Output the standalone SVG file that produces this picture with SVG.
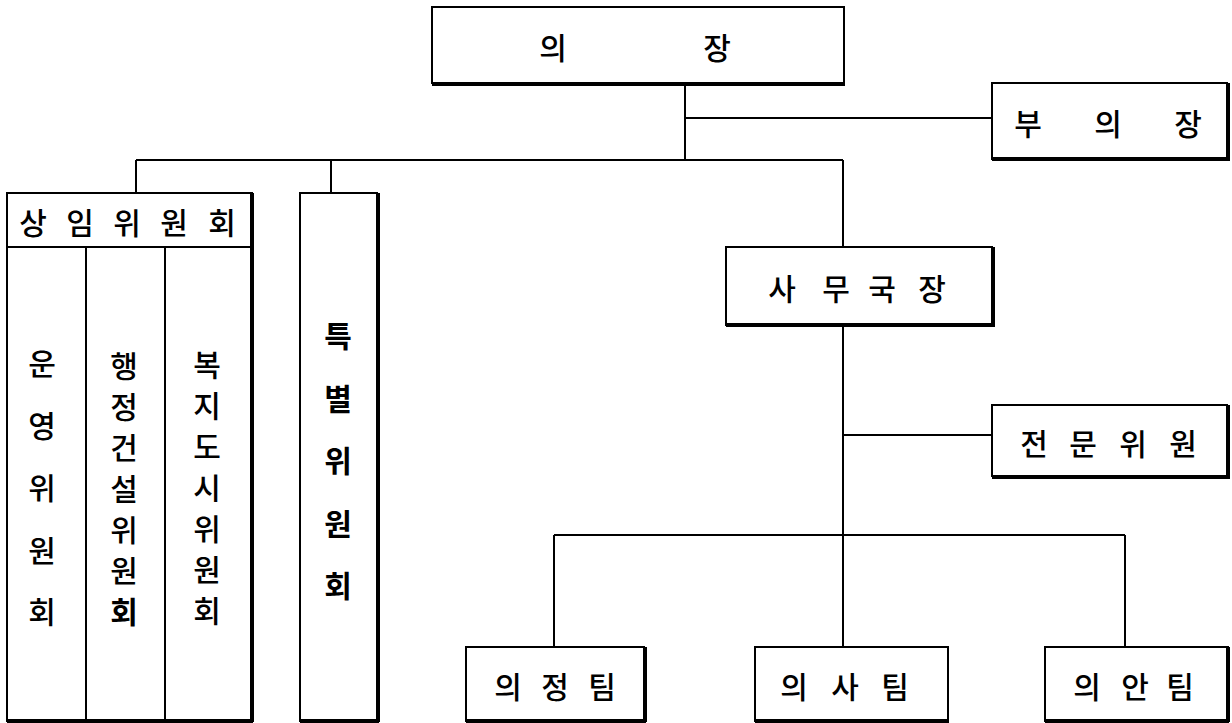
<svg xmlns="http://www.w3.org/2000/svg" width="1232" height="723" viewBox="0 0 1232 723">
<style>
.box{fill:#fff;stroke:#000;stroke-width:2}
.sh{fill:none;stroke:#000;stroke-width:4}
.ln{fill:none;stroke:#000;stroke-width:2}
.t{font-family:"Noto Sans CJK KR","Noto Sans CJK SC",sans-serif;font-size:30px;font-weight:500;fill:#000;text-anchor:middle}
.b{font-weight:700}
</style>
<rect width="1232" height="723" fill="#fff"/>
<g id="connectors">
<path class="ln" d="M685 84V160M685 118H992M136 160H843M136 160V193M331 160V193M843 160V247M843 326V646M843 435H992M554 535H1125M554 535V647M1125 535V647"/>
</g>
<g id="chair">
<rect class="box" x="432" y="7" width="412" height="76"/>
<path class="sh" d="M432 84H845"/>
<text class="t" x="553" y="59">의</text>
<text class="t" x="717" y="59">장</text>
</g>
<g id="vice-chair">
<rect class="box" x="992" y="83" width="235" height="76"/>
<path class="sh" d="M992 159H1228V83"/>
<text class="t" x="1028" y="135">부</text>
<text class="t" x="1108" y="135">의</text>
<text class="t" x="1188" y="135">장</text>
</g>
<g id="standing-committee">
<rect class="box" x="7" y="193" width="245" height="528"/>
<path class="ln" d="M7 247H252M86 247V721M165 247V721"/>
<path class="sh" d="M252 193V722M7 721H253"/>
<text class="t" x="33" y="234">상</text>
<text class="t" x="80" y="234">임</text>
<text class="t" x="127" y="234">위</text>
<text class="t" x="174" y="234">원</text>
<text class="t" x="222" y="234">회</text>
<g id="operations-committee">
<text class="t" x="42" y="375">운</text>
<text class="t" x="42" y="437">영</text>
<text class="t" x="42" y="499">위</text>
<text class="t" x="42" y="562">원</text>
<text class="t" x="42" y="623">회</text>
</g>
<g id="admin-construction-committee">
<text class="t" x="124" y="377">행</text>
<text class="t" x="124" y="418">정</text>
<text class="t" x="124" y="459">건</text>
<text class="t" x="124" y="500">설</text>
<text class="t" x="124" y="541">위</text>
<text class="t" x="124" y="582">원</text>
<text class="t b" x="124" y="623">회</text>
</g>
<g id="welfare-city-committee">
<text class="t" x="207" y="376">복</text>
<text class="t" x="207" y="417">지</text>
<text class="t" x="207" y="458">도</text>
<text class="t" x="207" y="499">시</text>
<text class="t" x="207" y="540">위</text>
<text class="t" x="207" y="581">원</text>
<text class="t" x="207" y="622">회</text>
</g>
</g>
<g id="special-committee">
<rect class="box" x="300" y="193" width="77" height="528"/>
<path class="sh" d="M378 193V722M300 721H379"/>
<text class="t b" x="338" y="347">특</text>
<text class="t b" x="338" y="410">별</text>
<text class="t b" x="338" y="472">위</text>
<text class="t b" x="338" y="535">원</text>
<text class="t b" x="338" y="597">회</text>
</g>
<g id="secretary-general">
<rect class="box" x="726" y="247" width="266" height="78"/>
<path class="sh" d="M726 325H993V247"/>
<text class="t" x="782" y="300">사</text>
<text class="t" x="836" y="300">무</text>
<text class="t" x="882" y="300">국</text>
<text class="t" x="932" y="300">장</text>
</g>
<g id="specialist">
<rect class="box" x="992" y="405" width="235" height="71"/>
<path class="sh" d="M992 477H1228V405"/>
<text class="t" x="1034" y="455">전</text>
<text class="t" x="1083" y="455">문</text>
<text class="t" x="1133" y="455">위</text>
<text class="t" x="1183" y="455">원</text>
</g>
<g id="team-agenda">
<rect class="box" x="466" y="647" width="178" height="74"/>
<path class="sh" d="M645 647V722M466 721H646"/>
<text class="t" x="508" y="698">의</text>
<text class="t" x="555" y="698">정</text>
<text class="t" x="602" y="698">팀</text>
</g>
<g id="team-proceedings">
<rect class="box" x="755" y="647" width="193" height="74"/>
<path class="sh" d="M755 721H949"/>
<text class="t" x="794" y="698">의</text>
<text class="t" x="845" y="698">사</text>
<text class="t" x="895" y="698">팀</text>
</g>
<g id="team-bills">
<rect class="box" x="1045" y="647" width="183" height="74"/>
<path class="sh" d="M1228 647V722M1045 721H1229"/>
<text class="t" x="1087" y="698">의</text>
<text class="t" x="1135" y="698">안</text>
<text class="t" x="1180" y="698">팀</text>
</g>
</svg>
